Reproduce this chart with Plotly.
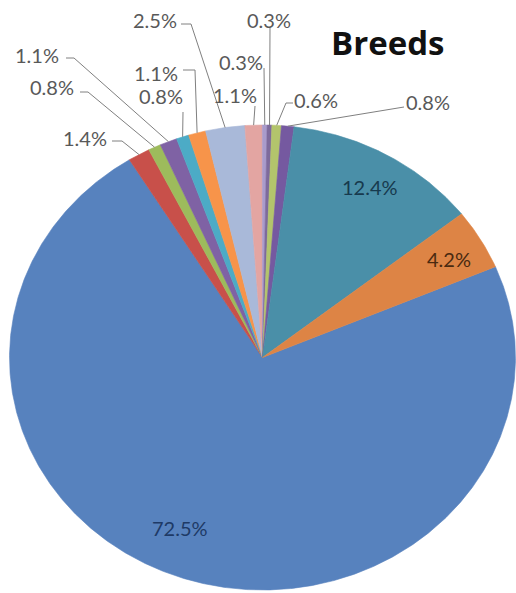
import numpy as np
import plotly.graph_objects as go

# Share of each breed, in drawing order (clockwise)
shares = [72.5, 1.4, 0.8, 1.1, 0.8, 1.1, 2.5, 1.1, 0.3, 0.3, 0.6, 0.8, 12.4, 4.2]
colors = ["#5782BE", "#C8504A", "#9DBB5C", "#7F62A4", "#4CABC6", "#F7944A",
          "#A9B9D9", "#E3A5A2", "#A99BCB", "#7E6A9C", "#B3C46C", "#7559A0",
          "#4A8FA8", "#DD8445"]
labels = [f"{v:.1f}%" for v in shares]

# Ellipse geometry (in page units) and starting angle of the first slice
cx, cy = 262.5, 357.5
rx, ry = 253.0, 232.5
start_deg = 67.0

# Text placement for each slice label and the leader-line waypoints
label_pos = {
    0: (180, 528), 1: (85, 138), 2: (52, 87), 3: (37, 55), 4: (161, 96),
    5: (156, 73), 6: (155, 20), 7: (235, 95), 8: (241, 62), 9: (269, 20),
    10: (316, 100), 11: (428, 102), 12: (370, 187), 13: (449, 259),
}
leader_pts = {
    1: [(112, 141), (122, 141)],
    2: [(80, 92), (88, 92)],
    3: [(66, 58), (74, 58)],
    4: [(183, 112)],
    5: [(183, 70), (195, 70)],
    6: [(181, 24), (191, 24)],
    7: [(255, 106)],
    8: [(264, 68)],
    9: [(270, 28)],
    10: [(293, 103), (286, 103)],
    11: [(404, 107)],
}
inside = {0: "#1E3A66", 12: "#173A4E", 13: "#4A2A10"}


def pt(theta_deg, r=1.0):
    t = np.radians(theta_deg)
    return cx + r * rx * np.sin(t), cy - r * ry * np.cos(t)


fig = go.Figure()
total = sum(shares)
a0 = start_deg
mids = []
for v, c in zip(shares, colors):
    span = v / total * 360.0
    th = np.linspace(a0, a0 + span, max(int(span * 3), 3))
    xs, ys = pt(th)
    fig.add_trace(go.Scatter(
        x=np.concatenate([[cx], xs, [cx]]),
        y=np.concatenate([[cy], ys, [cy]]),
        fill="toself", fillcolor=c, mode="lines",
        line=dict(color=c, width=0.6), hoverinfo="skip",
    ))
    mids.append(a0 + span / 2)
    a0 += span

# Leader lines from outside labels to the rim of their slices
for i, way in leader_pts.items():
    ex, ey = pt(mids[i])
    xs = [p[0] for p in way] + [ex]
    ys = [p[1] for p in way] + [ey]
    fig.add_trace(go.Scatter(x=xs, y=ys, mode="lines",
                             line=dict(color="#808080", width=1),
                             hoverinfo="skip"))

for i, (x, y) in label_pos.items():
    fig.add_annotation(x=x, y=y, text=labels[i], showarrow=False,
                       font=dict(family="Lato", size=20,
                                 color=inside.get(i, "#595959")),
                       xanchor="center", yanchor="middle")

fig.add_annotation(x=387, y=42, text="<b>Breeds</b>", showarrow=False,
                   font=dict(family="Open Sans", size=33, color="#111111"),
                   xanchor="center", yanchor="middle")

fig.update_layout(
    width=516, height=593, margin=dict(l=0, r=0, t=0, b=0),
    paper_bgcolor="white", plot_bgcolor="white", showlegend=False,
    xaxis=dict(range=[0, 516], visible=False, fixedrange=True),
    yaxis=dict(range=[593, 0], visible=False, fixedrange=True),
)
fig.write_html("out.html", config={"displayModeBar": False})
